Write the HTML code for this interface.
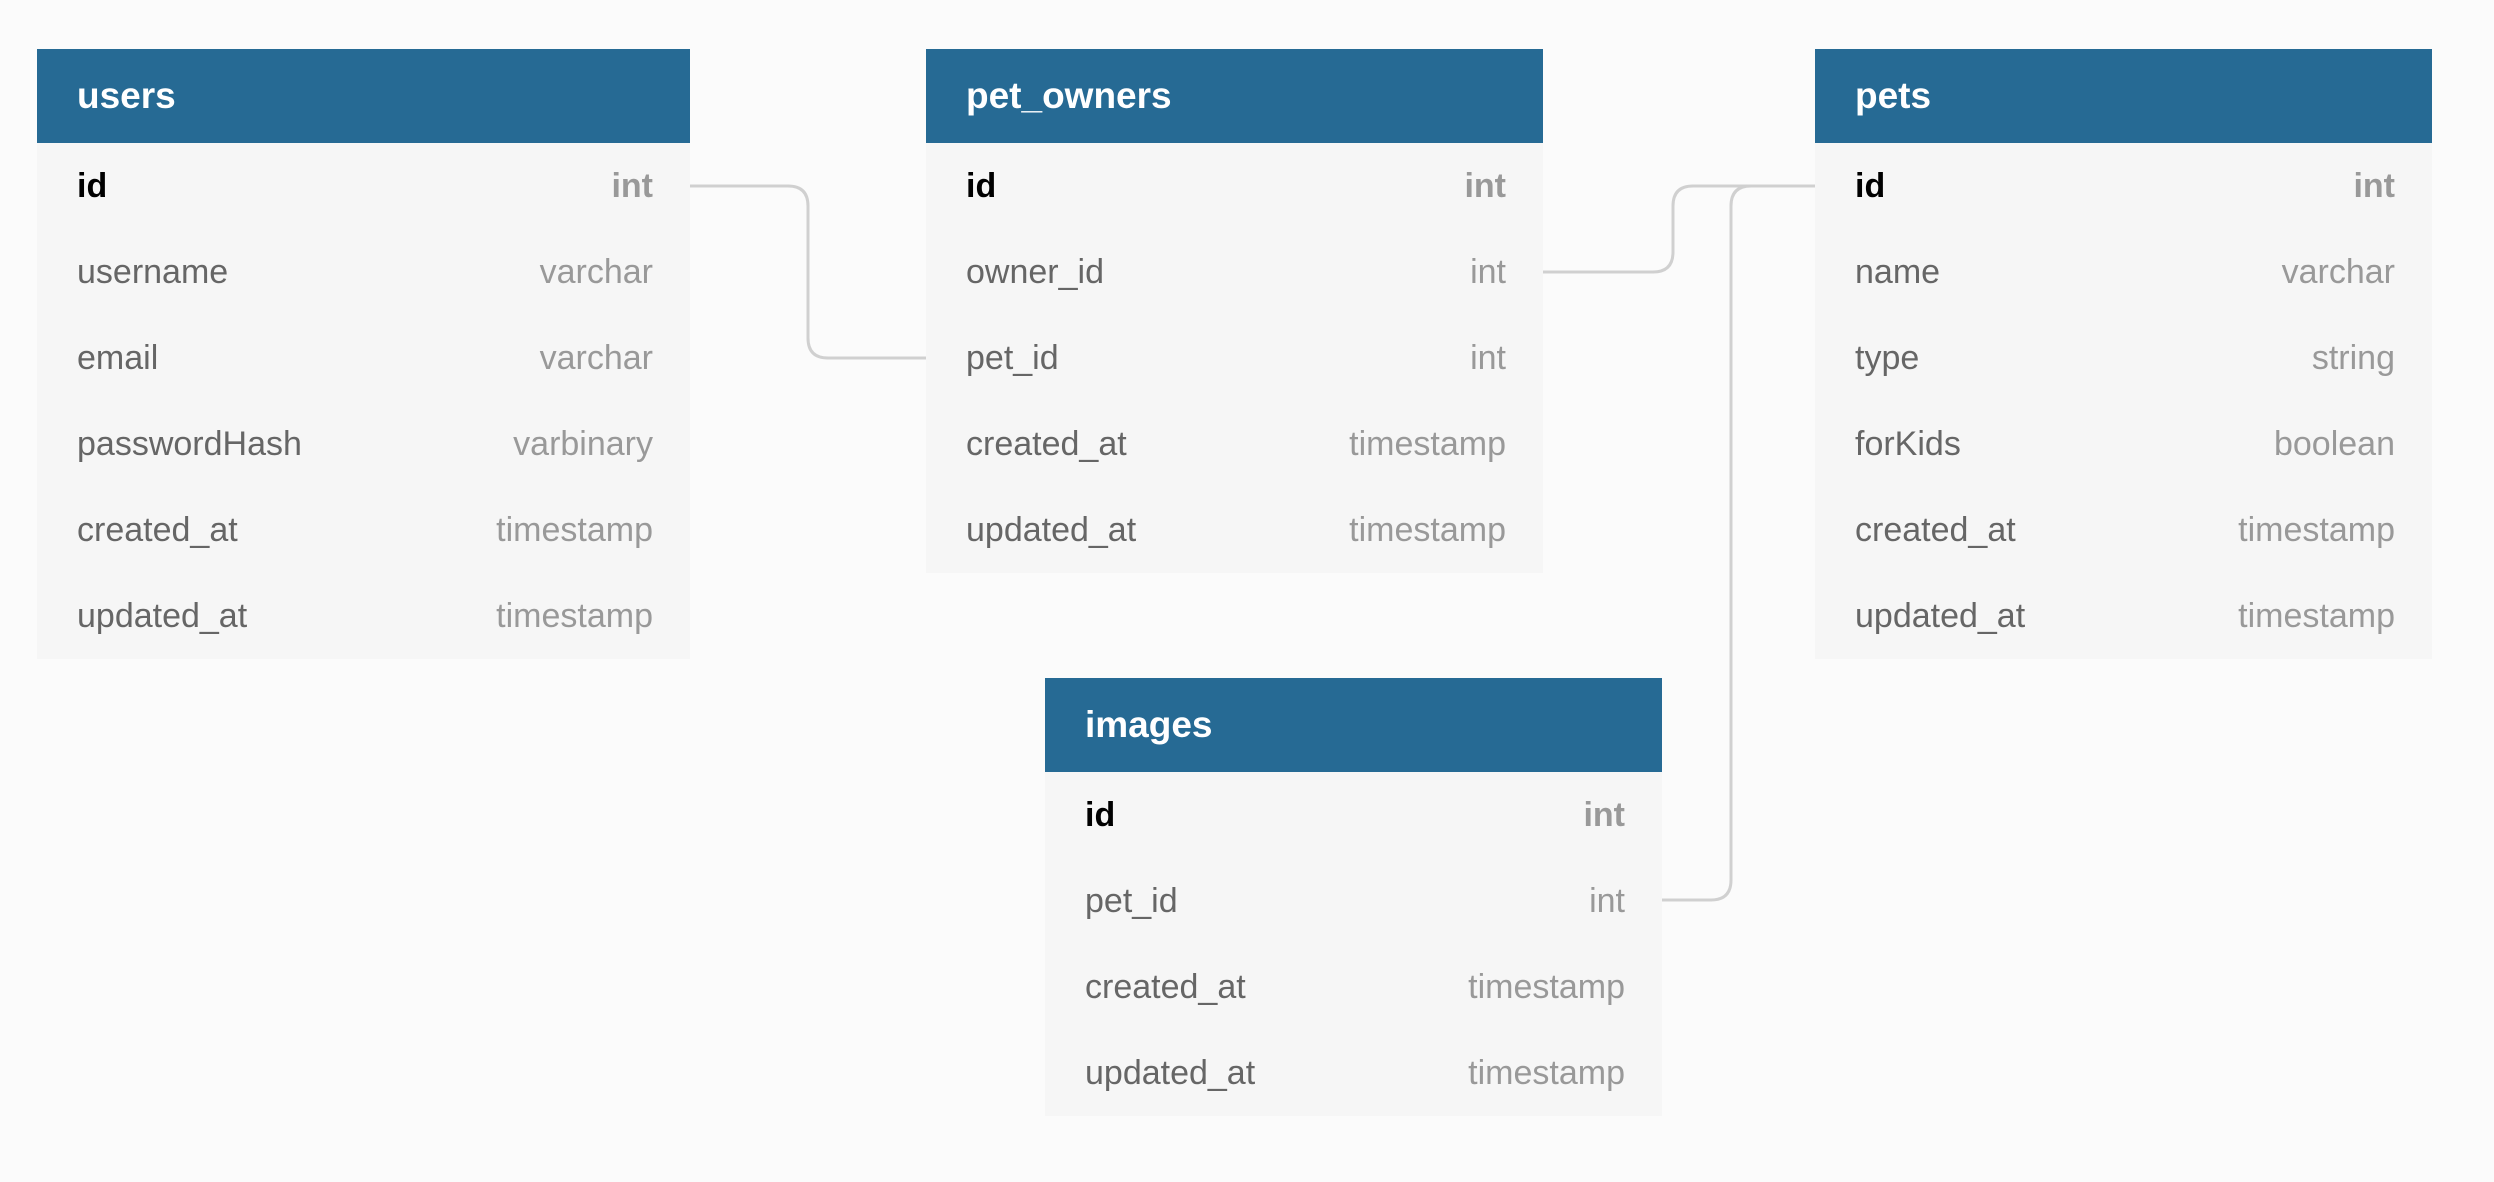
<!DOCTYPE html>
<html><head><meta charset="utf-8"><style>
body{margin:0;width:2494px;height:1182px;background:#fbfbfb;position:relative;overflow:hidden;font-family:"Liberation Sans",sans-serif;}
.t{position:absolute;background:#f6f6f6;}
.h{height:94px;background:#266a94;color:#fff;font-weight:bold;font-size:37px;line-height:94px;padding-left:40px;box-sizing:border-box;}
.r{height:86px;line-height:86px;font-size:34px;color:#666;padding:0 37px 0 40px;display:flex;justify-content:space-between;}
.r span:last-child{color:#999;}
.r.pk span:first-child{color:#000;font-weight:bold;}
.r.pk span:last-child{font-weight:bold;}
svg{position:absolute;left:0;top:0;}
</style></head><body>
<svg width="2494" height="1182" fill="none" stroke="#d0d0d0" stroke-width="3">
<path d="M690 186 H788 Q808 186 808 206 V338 Q808 358 828 358 H926"/>
<path d="M1543 272 H1653 Q1673 272 1673 252 V206 Q1673 186 1693 186 H1815"/>
<path d="M1662 900 H1711 Q1731 900 1731 880 V206 Q1731 186 1751 186 H1815"/>
</svg>
<div class="t" style="left:37px;top:49px;width:653px">
<div class="h">users</div>
<div class="r pk"><span>id</span><span>int</span></div>
<div class="r"><span>username</span><span>varchar</span></div>
<div class="r"><span>email</span><span>varchar</span></div>
<div class="r"><span>passwordHash</span><span>varbinary</span></div>
<div class="r"><span>created_at</span><span>timestamp</span></div>
<div class="r"><span>updated_at</span><span>timestamp</span></div>
</div>
<div class="t" style="left:926px;top:49px;width:617px">
<div class="h">pet_owners</div>
<div class="r pk"><span>id</span><span>int</span></div>
<div class="r"><span>owner_id</span><span>int</span></div>
<div class="r"><span>pet_id</span><span>int</span></div>
<div class="r"><span>created_at</span><span>timestamp</span></div>
<div class="r"><span>updated_at</span><span>timestamp</span></div>
</div>
<div class="t" style="left:1815px;top:49px;width:617px">
<div class="h">pets</div>
<div class="r pk"><span>id</span><span>int</span></div>
<div class="r"><span>name</span><span>varchar</span></div>
<div class="r"><span>type</span><span>string</span></div>
<div class="r"><span>forKids</span><span>boolean</span></div>
<div class="r"><span>created_at</span><span>timestamp</span></div>
<div class="r"><span>updated_at</span><span>timestamp</span></div>
</div>
<div class="t" style="left:1045px;top:678px;width:617px">
<div class="h">images</div>
<div class="r pk"><span>id</span><span>int</span></div>
<div class="r"><span>pet_id</span><span>int</span></div>
<div class="r"><span>created_at</span><span>timestamp</span></div>
<div class="r"><span>updated_at</span><span>timestamp</span></div>
</div>
</body></html>
